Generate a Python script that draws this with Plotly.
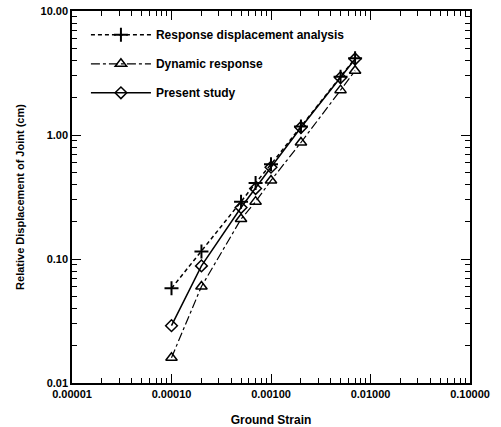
import plotly.graph_objects as go

strain = [0.0001, 0.0002, 0.0005, 0.0007, 0.001, 0.002, 0.005, 0.007]
resp_disp = [0.058, 0.115, 0.29, 0.41, 0.58, 1.17, 2.95, 4.15]
dynamic = [0.016, 0.06, 0.21, 0.29, 0.43, 0.87, 2.3, 3.3]
present = [0.029, 0.088, 0.26, 0.37, 0.55, 1.15, 2.9, 4.1]

x_tickvals = [1e-5, 1e-4, 1e-3, 1e-2, 1e-1]
x_ticktext = ["0.00001", "0.00010", "0.00100", "0.01000", "0.10000"]
y_tickvals = [0.01, 0.1, 1, 10]
y_ticktext = ["0.01", "0.10", "1.00", "10.00"]
minor_mult = [2, 3, 4, 5, 6, 7, 8, 9]

x_minor = [m * d for d in x_tickvals[:-1] for m in minor_mult]
y_minor = [m * d for d in y_tickvals[:-1] for m in minor_mult]

fnt = "Liberation Sans, Arial, sans-serif"

fig = go.Figure()
fig.add_trace(go.Scatter(x=strain, y=resp_disp, mode="lines+markers",
                         name="Response displacement analysis", legendgroup="a",
                         line=dict(color="black", width=1.5, dash="4px,3px"),
                         marker=dict(symbol="cross-thin", size=10, line=dict(color="black", width=2))))
fig.add_trace(go.Scatter(x=strain, y=dynamic, mode="lines+markers",
                         name="Dynamic response", legendgroup="b",
                         line=dict(color="black", width=1.2, dash="dashdot"),
                         marker=dict(symbol="triangle-up-open", size=10, color="black", line=dict(color="black", width=1.5))))
fig.add_trace(go.Scatter(x=strain, y=present, mode="lines+markers",
                         name="Present study", legendgroup="c",
                         line=dict(color="black", width=1.5),
                         marker=dict(symbol="diamond-open", size=9, color="black", line=dict(color="black", width=1.5))))

common = dict(showline=True, linecolor="black", linewidth=1.5, mirror="ticks",
              showgrid=False, zeroline=False, layer="above traces",
              ticks="inside", ticklen=9, tickwidth=1.2, tickcolor="black",
              tickfont=dict(family=fnt, size=11, color="black", weight=700))

fig.update_layout(
    template="none",
    xaxis=dict(type="log", range=[-5, -1], tickmode="array", tickvals=x_tickvals, ticktext=x_ticktext,
               minor=dict(ticks="inside", ticklen=5, tickwidth=1, tickcolor="black",
                          tickmode="array", tickvals=x_minor),
               title=dict(text="Ground Strain", font=dict(family=fnt, size=12, color="black", weight=700), standoff=18),
               automargin=False, **common),
    yaxis=dict(type="log", range=[-2, 1], tickmode="array", tickvals=y_tickvals, ticktext=y_ticktext,
               minor=dict(ticks="inside", ticklen=5, tickwidth=1, tickcolor="black",
                          tickmode="array", tickvals=y_minor),
               title=dict(text="Relative Displacement of Joint (cm)", font=dict(family=fnt, size=11, color="black", weight=700), standoff=14),
               automargin=False, **common),
)

fig.update_layout(width=501, height=427, margin=dict(l=72, r=31, t=11, b=44),
                  plot_bgcolor="white", paper_bgcolor="white",
                  showlegend=True,
                  legend=dict(x=0.035, y=0.975, xanchor="left", yanchor="top",
                              bgcolor="rgba(0,0,0,0)", tracegroupgap=10, itemwidth=60,
                              font=dict(family=fnt, size=12, color="black", weight=700)))

fig.write_html("out.html")
